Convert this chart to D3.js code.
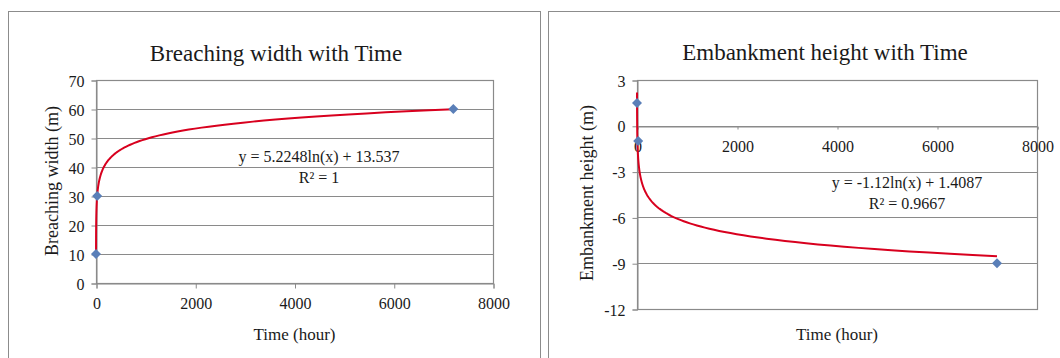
<!DOCTYPE html>
<html>
<head>
<meta charset="utf-8">
<script src="https://cdn.jsdelivr.net/npm/d3@7"></script>
<style>
  body { margin: 0; background: #fff; }
  svg text { font-family: "Times New Roman", "Liberation Serif", serif; fill: #1a1a1a; }
</style>
</head>
<body>
<div id="chart-area"></div>
<script>
// data
const timeHours = [0.5, 24, 7200];
const breachWidth = [10, 30, 60];
const embankHeight = [1.5, -1, -9];
const timeTicks = [0, 2000, 4000, 6000, 8000];
const widthTicks = [0, 10, 20, 30, 40, 50, 60, 70];
const heightTicks = [3, 0, -3, -6, -9, -12];
// log trendlines shown on the chart: y = a*ln(x) + b
const widthFit = [5.2248, 13.537];
const heightFit = [-1.12, 1.4087];
const widthFitText = ["y = 5.2248ln(x) + 13.537", "R² = 1"];
const heightFitText = ["y = -1.12ln(x) + 1.4087", "R² = 0.9667"];

let svg = d3.select("#chart-area")
  .append("svg")
    .attr("width", 1060)
    .attr("height", 358);

function panel(opt) {
  // outer frame
  svg.append("rect")
    .attr("x", opt.frame[0] + 0.5).attr("y", 11.5)
    .attr("width", opt.frame[1] - opt.frame[0]).attr("height", 360)
    .attr("fill", "#fff").attr("stroke", "#8c8c8c");

  let x = d3.scaleLinear().domain([0, 8000]).range(opt.xr);
  let y = d3.scaleLinear().domain(d3.extent(opt.yTicks)).range(opt.yr);
  let g = svg.append("g");

  // gridlines
  g.selectAll(".grid").data(opt.yTicks).enter()
    .append("line")
      .attr("x1", opt.xr[0]).attr("x2", opt.xr[1])
      .attr("y1", d => Math.round(y(d)) + 0.5).attr("y2", d => Math.round(y(d)) + 0.5)
      .attr("stroke", "#8a8a8a").attr("stroke-width", 1.2);

  // plot border
  g.append("rect")
    .attr("x", opt.xr[0] + 0.5).attr("y", opt.yr[1] + 0.5)
    .attr("width", opt.xr[1] - opt.xr[0]).attr("height", opt.yr[0] - opt.yr[1])
    .attr("fill", "none").attr("stroke", "#8a8a8a").attr("stroke-width", 1.2);

  // y axis
  let yAxis = g.append("g")
    .attr("transform", `translate(${opt.xr[0] + 0.5}, 0.5)`)
    .call(d3.axisLeft(y).tickValues(opt.yTicks).tickSize(5).tickPadding(7).tickFormat(d => String(d)));
  yAxis.select(".domain").attr("stroke", "#8a8a8a");
  yAxis.selectAll("line").attr("stroke", "#8a8a8a");
  yAxis.selectAll("text").attr("font-size", "16px").attr("dy", "0.35em");

  // x axis
  let xAxis = g.append("g")
    .attr("transform", `translate(0.5, ${Math.round(y(opt.xAt)) + 0.5})`)
    .call(d3.axisBottom(x).tickValues(timeTicks).tickSize(opt.xTickSize).tickPadding(opt.xPad).tickFormat(d => String(d)));
  xAxis.select(".domain").attr("stroke", "#8a8a8a");
  xAxis.selectAll("line").attr("stroke", "#8a8a8a");
  xAxis.selectAll("text").attr("font-size", "16px");

  // trendline
  let a = opt.fit[0], b = opt.fit[1];
  let xs = d3.range(0, 301).map(i => timeHours[0] * Math.pow(timeHours[2] / timeHours[0], Math.pow(i / 300, 2.2)));
  g.append("path")
    .datum(xs)
    .attr("fill", "none")
    .attr("stroke", "#d8001e")
    .attr("stroke-width", 2)
    .attr("d", d3.line().x(d => x(d)).y(d => y(a * Math.log(d) + b)));

  // data points
  g.selectAll(".pt").data(timeHours).enter()
    .append("path")
      .attr("d", d3.symbol(d3.symbolSquare, 50))
      .attr("transform", (d, i) => `translate(${x(d)}, ${y(opt.values[i])}) rotate(45)`)
      .attr("fill", "#5a7fb8");

  // title
  svg.append("text")
    .attr("x", opt.titlePos[0]).attr("y", opt.titlePos[1])
    .attr("text-anchor", "middle").attr("font-size", "23px")
    .text(opt.title);

  // x label
  svg.append("text")
    .attr("x", (opt.xr[0] + opt.xr[1]) / 2).attr("y", 340)
    .attr("text-anchor", "middle").attr("font-size", "17px")
    .text("Time (hour)");

  // y label
  svg.append("text")
    .attr("transform", `translate(${opt.yLabelPos[0]}, ${opt.yLabelPos[1]}) rotate(-90)`)
    .attr("text-anchor", "middle").attr("font-size", "18px")
    .text(opt.yLabel);

  // equation
  opt.fitText.forEach((t, i) => {
    svg.append("text")
      .attr("x", opt.eqPos[0]).attr("y", opt.eqPos[1] + i * 21)
      .attr("text-anchor", "middle").attr("font-size", "16px")
      .text(t);
  });
}

panel({
  frame: [8, 540],
  xr: [96, 493], yr: [283, 80],
  yTicks: widthTicks, xAt: 0, xTickSize: 5, xPad: 9,
  values: breachWidth, fit: widthFit, fitText: widthFitText,
  title: "Breaching width with Time", titlePos: [276, 61],
  yLabel: "Breaching width (m)", yLabelPos: [58, 181],
  eqPos: [319, 162]
});

panel({
  frame: [548, 1060],
  xr: [637, 1037], yr: [309, 80],
  yTicks: heightTicks, xAt: 0, xTickSize: 3, xPad: 11,
  values: embankHeight, fit: heightFit, fitText: heightFitText,
  title: "Embankment height with Time", titlePos: [825, 60],
  yLabel: "Embankment height (m)", yLabelPos: [593, 193],
  eqPos: [907, 188]
});
</script>
</body>
</html>
